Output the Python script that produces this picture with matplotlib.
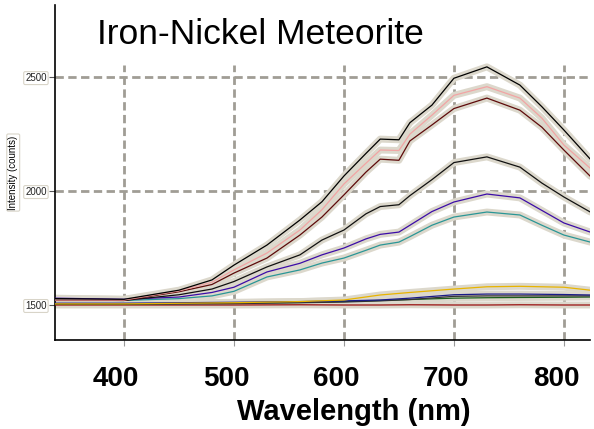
import matplotlib.pyplot as plt
import matplotlib.transforms as mtransforms

# --------------- data ---------------
wl = [337, 400, 450, 480, 500, 530, 560, 580, 600, 620, 633, 650, 660, 680,
      700, 730, 760, 780, 800, 824]

black_top = [1528, 1525, 1565, 1610, 1675, 1763, 1873, 1953, 2066, 2165, 2228,
             2225, 2300, 2377, 2495, 2545, 2465, 2370, 2268, 2140]
pink = [1522, 1522, 1562, 1600, 1654, 1728, 1829, 1918, 2031, 2122, 2180,
        2178, 2250, 2333, 2420, 2458, 2408, 2320, 2202, 2100]
brown = [1520, 1520, 1558, 1590, 1640, 1706, 1807, 1886, 1983, 2083, 2140,
         2135, 2220, 2290, 2362, 2408, 2355, 2280, 2180, 2065]
black_mid = [1522, 1520, 1545, 1570, 1603, 1667, 1720, 1785, 1829, 1900, 1932,
             1940, 1980, 2050, 2125, 2150, 2105, 2035, 1974, 1908]
purple = [1530, 1525, 1535, 1555, 1578, 1645, 1683, 1720, 1750, 1790, 1810,
          1820, 1850, 1910, 1952, 1987, 1970, 1915, 1860, 1820]
teal = [1522, 1520, 1528, 1540, 1560, 1623, 1654, 1684, 1706, 1740, 1763,
        1776, 1800, 1850, 1886, 1908, 1895, 1850, 1807, 1776]

wl_low = [337, 400, 500, 560, 600, 633, 660, 700, 730, 760, 800, 824]
yellow = [1505, 1505, 1510, 1515, 1522, 1544, 1555, 1570, 1580, 1582, 1578, 1565]
navy = [1508, 1508, 1512, 1515, 1518, 1522, 1530, 1545, 1548, 1548, 1546, 1544]
grey_low = [1503, 1503, 1506, 1510, 1513, 1518, 1524, 1538, 1540, 1540, 1540, 1540]
green = [1505, 1505, 1508, 1511, 1515, 1520, 1524, 1530, 1532, 1533, 1534, 1535]
darkred = [1500, 1500, 1500, 1501, 1500, 1500, 1501, 1500, 1500, 1501, 1500, 1500]

xticks = [400, 500, 600, 700, 800]
yticks = [1500, 2000, 2500]
# ------------------------------------------------------------

plt.rcParams['font.family'] = ['Liberation Sans', 'DejaVu Sans']

fig = plt.figure(figsize=(5.94, 4.29), dpi=100)
ax = fig.add_axes([0.0926, 0.2075, 0.9004, 0.7805])
ax.set_xlim(337.3, 823.6)
ax.set_ylim(1346.5, 2815.8)

halo = '#dcd8cc'
grid_c = '#a09d95'

# grid
ax.vlines(xticks, 1346.5, 2555, colors=grid_c, linestyles=(0, (3, 1.6)),
          linewidth=2, zorder=1)
ax.hlines([2000, 2500], 337.3, 823.6, colors=grid_c,
          linestyles=(0, (3, 1.6)), linewidth=2, zorder=1)

series = [
    (wl_low, darkred, '#9a1010'),
    (wl_low, green, '#1b5e1b'),
    (wl_low, grey_low, '#333333'),
    (wl_low, navy, '#1a1a88'),
    (wl_low, yellow, '#e8b400'),
    (wl, teal, '#2a9696'),
    (wl, purple, '#3c0ca8'),
    (wl, black_mid, '#111111'),
    (wl, brown, '#5e0a0a'),
    (wl, pink, '#f2a4a4'),
    (wl, black_top, '#000000'),
]
for x, y, c in series:
    ax.plot(x, y, color=halo, linewidth=5, solid_capstyle='round', zorder=2)
for x, y, c in series:
    ax.plot(x, y, color=c, linewidth=0.9, zorder=3)

# spines
for s in ['top', 'right']:
    ax.spines[s].set_visible(False)
ax.spines['left'].set_linewidth(1.2)
ax.spines['bottom'].set_linewidth(1.2)

ax.set_yticks(yticks)
ax.set_yticklabels([str(v) for v in yticks], fontsize=7, color='#222222')
for lbl in ax.get_yticklabels():
    lbl.set_bbox(dict(boxstyle='round,pad=0.15', fc='white', ec='#d8d4c8', lw=0.8))
ax.tick_params(axis='y', length=4, width=0.8, pad=2, colors='#555555',
               labelcolor='#222222')

ax.set_xticks(xticks)
ax.set_xticklabels([str(v) for v in xticks], fontsize=20, fontweight='bold')
ax.tick_params(axis='x', length=4, width=0.8, pad=15, colors='#999999',
               labelcolor='black')
shift = mtransforms.ScaledTranslation(-8 / 100, 0, fig.dpi_scale_trans)
for lbl in ax.get_xticklabels():
    lbl.set_transform(lbl.get_transform() + shift)

ax.set_xlabel('Wavelength (nm)', fontsize=21, fontweight='bold')
ax.xaxis.set_label_coords(0.559, -0.172)
ax.set_ylabel('Intensity (counts)', fontsize=7, labelpad=5,
              bbox=dict(boxstyle='round,pad=0.15', fc='white', ec='#d8d4c8', lw=0.8))

fig.text(97 / 594, 1 - 34 / 429, 'Iron-Nickel Meteorite', fontsize=25.5,
         ha='left', va='center')

fig.savefig('out.png', dpi=100)
